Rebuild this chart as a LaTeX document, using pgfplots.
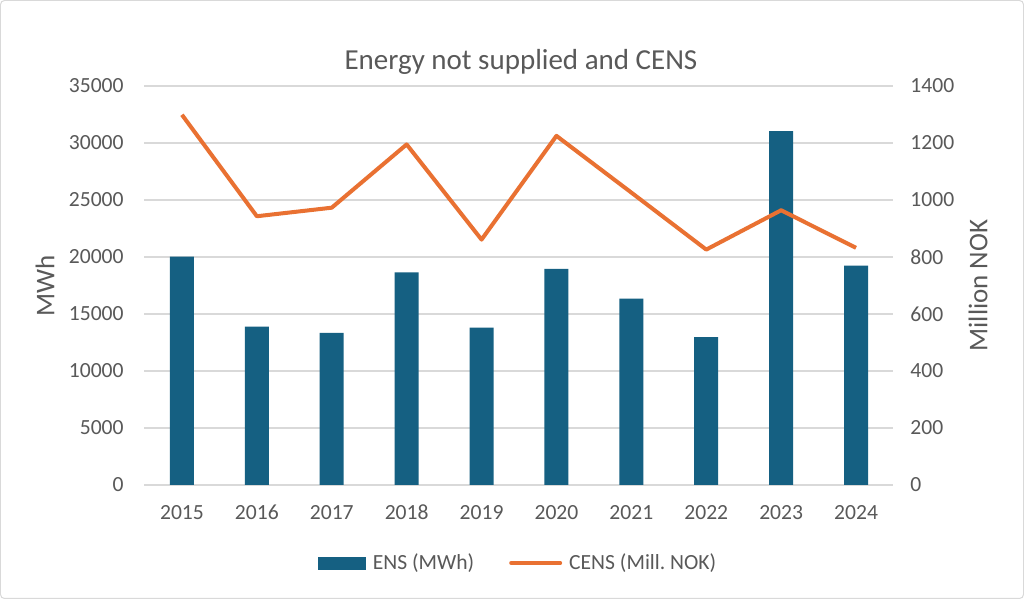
\documentclass[border=0pt]{standalone}
\usepackage{pgfplots}
\pgfplotsset{compat=1.18}
\usepackage{fontspec}
\setmainfont{Carlito}
\frenchspacing
\definecolor{ensblue}{HTML}{156082}
\definecolor{censorange}{HTML}{E97132}
\definecolor{txtgray}{HTML}{595959}
\definecolor{gridgray}{HTML}{D9D9D9}
\newcommand{\tickfont}{\fontsize{10.8}{13}\selectfont}
\newcommand{\labelfont}{\fontsize{13.5}{16}\selectfont}

\pgfplotsset{
  basechart/.style={
    scale only axis, width=374.5pt, height=199.5pt,
    at={(0pt,0pt)}, anchor=south west,
    xmin=-0.5, xmax=9.5,
    axis line style={draw=none}, tick style={draw=none},
    scaled y ticks=false,
    /pgf/number format/assume math mode=true,
    /pgf/number format/1000 sep={},
    ticklabel style={font=\tickfont, text=txtgray},
  }
}

\begin{document}
\begin{tikzpicture}
\useasboundingbox (-72.25pt,-57pt) rectangle (439.75pt,242.5pt);
\fill[white] (-72.25pt,-57pt) rectangle (439.75pt,242.5pt);
\draw[gridgray, line width=0.5pt, rounded corners=2pt] (-72pt,-56.75pt) rectangle (439.5pt,242.25pt);

% ENS bars, left axis
\begin{axis}[basechart,
  ymin=0, ymax=35000, ytick={0,5000,...,35000},
  ymajorgrids, grid style={gridgray, line width=0.6pt},
  xtick=data,
  xticklabels={2015,2016,2017,2018,2019,2020,2021,2022,2023,2024},
  xticklabel style={anchor=base, inner sep=0pt, yshift=-17.5pt},
  yticklabel style={anchor=east, inner sep=0pt, xshift=-10.25pt},
  ylabel={MWh},
  ylabel style={at={(axis description cs:-0.1328,0.5)}, anchor=center,
    rotate=0, font=\labelfont, text=txtgray},
]
\addplot[ybar, bar width=12pt, fill=ensblue, draw=none] coordinates {
  (0,20030) (1,13890) (2,13340) (3,18660) (4,13800)
  (5,18950) (6,16350) (7,12980) (8,31050) (9,19240)
};
\end{axis}

% CENS line, right axis
\begin{axis}[basechart,
  ymin=0, ymax=1400, ytick={0,200,...,1400},
  xtick=\empty,
  axis y line*=right, axis x line=none,
  yticklabel style={anchor=west, inner sep=0pt, xshift=8.25pt},
  ylabel={Million NOK},
  ylabel style={at={(axis description cs:1.1128,0.5)}, anchor=center,
    rotate=0, font=\labelfont, text=txtgray},
  legend columns=2,
  legend style={draw=none, fill=none, inner sep=0pt, outer sep=0pt,
    at={(0.2316,-0.1955)}, anchor=west,
    nodes={inner sep=0pt, font=\tickfont, text=txtgray},
    /tikz/every odd column/.append style={column sep=3.5pt},
    /tikz/every even column/.append style={column sep=17.5pt}},
]
\addlegendimage{legend image code/.code={\fill[ensblue] (0pt,-3pt) rectangle (23.5pt,3pt);}}
\addlegendentry{ENS (MWh)}
\addplot[censorange, line width=2pt, line join=round, mark=none,
  legend image code/.code={\draw[censorange, line width=2pt, line cap=round] (0.5pt,0pt) -- (25pt,0pt);}]
  coordinates {
  (0,1299) (1,943) (2,973) (3,1195) (4,861)
  (5,1225) (6,1026) (7,826) (8,964) (9,832)
};
\addlegendentry{CENS (Mill. NOK)}
\end{axis}

\node[anchor=base, text=txtgray, font=\fontsize{14.5}{17}\selectfont] at (188.25pt,207.85pt) {Energy not supplied and CENS};
\end{tikzpicture}
\end{document}
